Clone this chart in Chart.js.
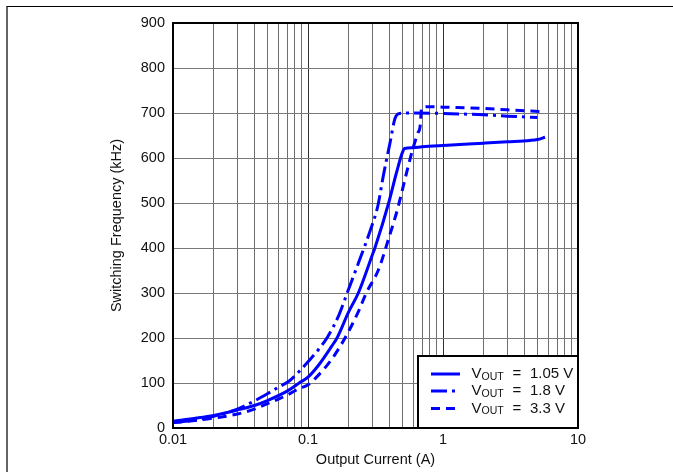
<!DOCTYPE html>
<html>
<head>
<meta charset="utf-8">
<script src="https://cdn.jsdelivr.net/npm/chart.js@4/dist/chart.umd.min.js"></script>
<style>
html,body{margin:0;padding:0;background:#fff;}
#wrap{position:relative;width:673px;height:472px;}
</style>
</head>
<body>
<div id="wrap"><canvas id="c" width="673" height="472"></canvas></div>
<script>
// ---- data ----
const xTitle = "Output Current (A)";
const yTitle = "Switching Frequency (kHz)";
const xTickLabels = [0.01, 0.1, 1, 10];
const yTicks = [0, 100, 200, 300, 400, 500, 600, 700, 800, 900];

const seriesNames = ["1.05 V", "1.8 V", "3.3 V"];

const i105 = [0.01, 0.015, 0.02, 0.03, 0.04, 0.05, 0.07, 0.086, 0.1, 0.12, 0.15, 0.164, 0.2, 0.236, 0.3, 0.313, 0.4, 0.45, 0.5, 0.52, 0.6, 0.7, 1, 2, 3, 4.4, 5, 5.7];
const f105 = [15, 22, 28, 40, 50, 61, 82, 100, 113, 140, 182, 200, 258, 300, 385, 400, 505, 565, 612, 621, 623, 625, 628, 633, 636, 639, 641, 646];

const i18 = [0.01, 0.015, 0.02, 0.03, 0.04, 0.05, 0.06, 0.073, 0.09, 0.1, 0.12, 0.14, 0.17, 0.195, 0.24, 0.29, 0.33, 0.36, 0.404, 0.441, 0.477, 0.6, 1, 2, 3, 5];
const f18 = [12, 18, 26, 42, 60, 76, 90, 105, 132, 147, 175, 203, 252, 300, 372, 440, 495, 558, 632, 688, 699, 700, 699, 696, 693, 690];

const i33 = [0.01, 0.015, 0.02, 0.03, 0.04, 0.05, 0.07, 0.085, 0.1, 0.12, 0.15, 0.188, 0.239, 0.27, 0.332, 0.393, 0.462, 0.532, 0.586, 0.65, 0.676, 0.695, 0.8, 1, 2, 3, 5.5];
const f33 = [12, 17, 22, 31, 42, 54, 73, 87, 96, 118, 153, 200, 262, 300, 351, 418, 488, 562, 611, 655, 669, 712, 714, 713, 710, 707, 703];

const FONT = "'Liberation Sans', Arial, sans-serif";
const BLUE = "#0000ff";
const dashes = [[], [16, 5, 3, 5], [9, 6]];

function pts(xs, ys){ return xs.map((x,i)=>({x:x, y:ys[i]})); }

const logTicks = [];
for (let e = -2; e <= 0; e++) {
  for (let m = 1; m <= 9; m++) logTicks.push(+(m * Math.pow(10, e)).toPrecision(3));
}
logTicks.push(10);

const framePlugin = {
  id: 'frame',
  beforeDraw(chart){
    const ctx = chart.ctx;
    ctx.save();
    ctx.fillStyle = '#fff';
    ctx.fillRect(0,0,chart.width,chart.height);
    ctx.strokeStyle = '#000';
    ctx.lineWidth = 1.2;
    ctx.beginPath();
    ctx.moveTo(7, 472); ctx.lineTo(7, 6.5); ctx.lineTo(673, 6.5);
    ctx.stroke();
    ctx.restore();
  },
  afterDatasetsDraw(chart){
    const ctx = chart.ctx;
    const a = chart.chartArea;
    ctx.save();
    // legend box
    const bx = 418, by = 356, bw = a.right - 418, bh = a.bottom - 356;
    ctx.fillStyle = '#fff';
    ctx.fillRect(bx, by, bw, bh);
    ctx.strokeStyle = '#000';
    ctx.lineWidth = 2;
    ctx.strokeRect(bx, by, bw, bh);
    const rows = [374, 391, 408.5];
    for (let k = 0; k < 3; k++) {
      const y = rows[k];
      ctx.strokeStyle = BLUE;
      ctx.lineWidth = 3;
      ctx.setLineDash(dashes[k]);
      ctx.beginPath();
      ctx.moveTo(431, y); ctx.lineTo(460, y);
      ctx.stroke();
      ctx.setLineDash([]);
      ctx.fillStyle = '#111';
      ctx.textBaseline = 'middle';
      ctx.textAlign = 'left';
      ctx.font = '15px ' + FONT;
      ctx.fillText('V', 471.5, y);
      const w = ctx.measureText('V').width;
      ctx.font = '10.5px ' + FONT;
      ctx.fillText('OUT', 471.5 + w, y + 3);
      ctx.font = '15px ' + FONT;
      ctx.fillText('=', 512.5, y);
      ctx.fillText(seriesNames[k], 530, y);
    }
    // plot frame
    ctx.strokeStyle = '#000';
    ctx.lineWidth = 2;
    ctx.strokeRect(a.left, a.top, a.right - a.left, a.bottom - a.top);
    ctx.restore();
  }
};

const datasets = [
  {label: seriesNames[0], data: pts(i105, f105), borderDash: dashes[0]},
  {label: seriesNames[1], data: pts(i18, f18), borderDash: dashes[1]},
  {label: seriesNames[2], data: pts(i33, f33), borderDash: dashes[2]}
].map(d => Object.assign(d, {
  borderColor: BLUE, borderWidth: 3, pointRadius: 0, fill: false,
  tension: 0.3, cubicInterpolationMode: 'monotone', showLine: true
}));

const TF = {family: FONT, size: 14.5};

new Chart(document.getElementById('c'), {
  type: 'scatter',
  data: { datasets },
  plugins: [framePlugin],
  options: {
    responsive: false,
    animation: false,
    devicePixelRatio: 1,
    layout: { padding: { left: 100, right: 95, top: 23, bottom: 3 } },
    plugins: { legend: {display: false}, tooltip: {enabled: false} },
    scales: {
      x: {
        type: 'logarithmic',
        min: 0.01, max: 10,
        afterFit(s){ s.height = 41; },
        afterBuildTicks(s){ s.ticks = logTicks.map(v => ({value: v})); },
        ticks: {
          autoSkip: false, maxRotation: 0, padding: 3,
          color: '#111', font: TF,
          callback(v){ return xTickLabels.includes(+(+v).toPrecision(3)) ? String(+(+v).toPrecision(3)) : ''; }
        },
        grid: {
          drawTicks: false,
          lineWidth: 1,
          color(ctx){ const v = ctx.tick ? ctx.tick.value : 0; const l = Math.log10(v); return Math.abs(l - Math.round(l)) < 1e-6 ? '#303030' : '#6e6e6e'; }
        },
        border: {display: true, color: '#000', width: 2},
        title: { display: true, text: xTitle, color: '#111', font: TF, padding: {top: 0, bottom: 0} }
      },
      y: {
        type: 'linear',
        min: 0, max: 900,
        afterFit(s){ s.width = 73; },
        afterBuildTicks(s){ s.ticks = yTicks.map(v => ({value: v})); },
        ticks: { padding: 8, color: '#111', font: TF },
        grid: { drawTicks: false, color: '#7a7a7a', lineWidth: 1 },
        border: {display: true, color: '#000', width: 2},
        title: { display: true, text: yTitle, color: '#111', font: TF, padding: {top: 8, bottom: 4} }
      }
    }
  }
});
</script>
</body>
</html>
